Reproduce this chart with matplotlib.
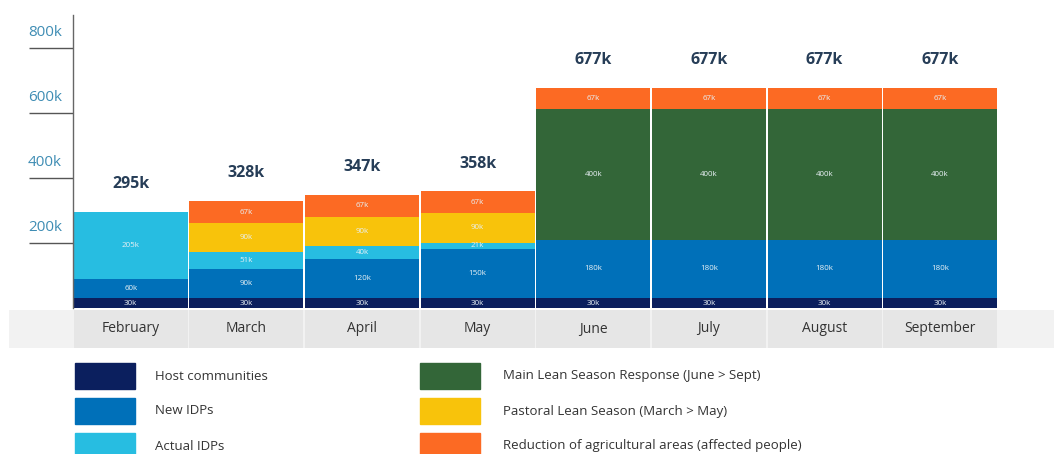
import matplotlib
matplotlib.use("Agg")
import matplotlib.pyplot as plt
from matplotlib.patches import Rectangle
import numpy as np

plt.rcParams['font.family'] = ['Open Sans', 'DejaVu Sans']

months = ['February', 'March', 'April', 'May', 'June', 'July', 'August', 'September']
host = [30, 30, 30, 30, 30, 30, 30, 30]
new_idps = [60, 90, 120, 150, 180, 180, 180, 180]
actual_idps = [205, 51, 40, 21, 0, 0, 0, 0]
pastoral = [0, 90, 90, 90, 0, 0, 0, 0]
main_lean = [0, 0, 0, 0, 400, 400, 400, 400]
reduction = [0, 67, 67, 67, 67, 67, 67, 67]
totals = [295, 328, 347, 358, 677, 677, 677, 677]
yticks = [200, 400, 600, 800]
ytick_labels = ['200k', '400k', '600k', '800k']

series = [
    ('Host communities', host, '#0b1f5e'),
    ('New IDPs', new_idps, '#0070b9'),
    ('Actual IDPs', actual_idps, '#27bde1'),
    ('Pastoral Lean Season (March > May)', pastoral, '#f8c30b'),
    ('Main Lean Season Response (June > Sept)', main_lean, '#336638'),
    ('Reduction of agricultural areas (affected people)', reduction, '#fc6a23'),
]

W, H = 1054, 454
fig = plt.figure(figsize=(W / 100, H / 100), dpi=100)

def fx(px):
    return px / W

def fy(py):
    return 1 - py / H

# light background band behind category labels
bg = fig.add_axes([fx(9), fy(348), fx(1054) - fx(9), fy(310) - fy(348)], zorder=0)
bg.set_facecolor('#f2f2f2')
bg.set_xticks([]); bg.set_yticks([])
for s in bg.spines.values():
    s.set_visible(False)

ax = fig.add_axes([fx(73), fy(308), fx(998) - fx(73), fy(15) - fy(308)], zorder=2)
ax.patch.set_alpha(0)
x = np.arange(len(months))
ax.set_xlim(-0.5, len(months) - 0.5)
ax.set_ylim(0, 900)

bottom = np.zeros(len(months))
for name, vals, col in series:
    v = np.array(vals, dtype=float)
    ax.bar(x, v, bottom=bottom, width=0.987, color=col, linewidth=0, zorder=2)
    for i in range(len(months)):
        if v[i] > 0:
            ax.text(x[i], bottom[i] + v[i] / 2, f'{int(v[i])}k', ha='center', va='center',
                    fontsize=5.8, color='#e8f0f4', zorder=3)
    bottom += v

for i, t in enumerate(totals):
    ax.annotate(f'{t}k', (x[i], t), xytext=(0, 20), textcoords='offset points',
                ha='center', va='center', fontsize=11.5, fontweight='bold', color='#263d57')

for s in ['top', 'right', 'bottom']:
    ax.spines[s].set_visible(False)
ax.spines['left'].set_color('#666666')
ax.spines['left'].set_linewidth(1.0)
ax.set_xticks([])
ax.set_yticks(yticks)
ax.set_yticklabels([])
ax.tick_params(axis='y', length=44 * 0.72, width=1.0, color='#555555', direction='out')
for v, lab in zip(yticks, ytick_labels):
    ax.annotate(lab, (0, v), xycoords=('figure fraction', 'data'),
                xytext=(28 * 0.72, 11), textcoords='offset points',
                ha='left', va='center', fontsize=11, color='#3f8db4', annotation_clip=False)

# category band
bax = fig.add_axes([fx(73), fy(348), fx(998) - fx(73), fy(310) - fy(348)], zorder=1)
bax.set_xlim(-0.5, len(months) - 0.5)
bax.set_ylim(0, 1)
bax.bar(x, [1] * len(months), width=0.987, color='#e6e6e6', linewidth=0)
for i, m in enumerate(months):
    bax.text(x[i], 0.5, m, ha='center', va='center', fontsize=10, color='#333333')
bax.axis('off')

# legend
leg_pos = [(75, 363), (75, 398), (75, 433), (420, 398), (420, 363), (420, 433)]
for (name, vals, col), (lx, ly) in zip(series, leg_pos):
    fig.patches.append(Rectangle((fx(lx), fy(ly + 26)), fx(60), 26 / H,
                                 transform=fig.transFigure, color=col, zorder=1))
    fig.text(fx(lx + 80 if lx < 200 else lx + 83), fy(ly + 13), name, ha='left', va='center',
             fontsize=9.5, color='#333333')

fig.savefig('out.png', dpi=100)
